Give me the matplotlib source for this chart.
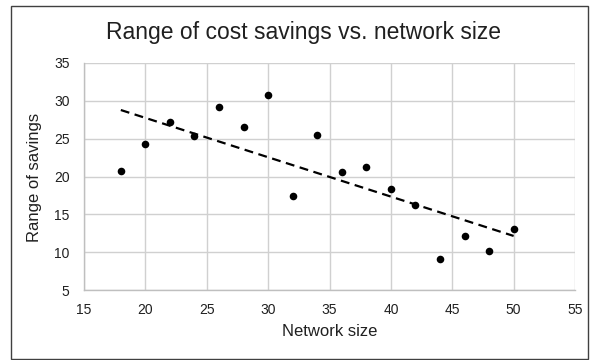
import numpy as np
import matplotlib
matplotlib.use("Agg")
import matplotlib.pyplot as plt
from matplotlib.patches import Rectangle

plt.rcParams['font.family'] = ['Liberation Sans', 'DejaVu Sans']

network_size = [18, 20, 22, 24, 26, 28, 30, 32, 34, 36, 38, 40, 42, 44, 46, 48, 50]
savings_range = [20.7, 24.3, 27.2, 25.4, 29.2, 26.5, 30.8, 17.4, 25.5, 20.6,
                 21.3, 18.4, 16.2, 9.1, 12.1, 10.1, 13.1]
x_ticks = [15, 20, 25, 30, 35, 40, 45, 50, 55]
y_ticks = [5, 10, 15, 20, 25, 30, 35]

W, H = 590, 360
fig = plt.figure(figsize=(W / 100, H / 100), dpi=100)
ax = fig.add_axes([84 / W, 1 - 290 / H, (575 - 84) / W, (290 - 63) / H])

# linear trend line over the data range
x = np.array(network_size, dtype=float)
y = np.array(savings_range, dtype=float)
slope, intercept = np.polyfit(x, y, 1)
xs = np.array([x.min(), x.max()])
ax.plot(xs, slope * xs + intercept, color='black', lw=1.6, ls=(0, (4, 2.5)), zorder=3)

ax.scatter(x, y, s=30, color='black', zorder=4, linewidths=0)

ax.set_xlim(15, 55)
ax.set_ylim(5, 35)
ax.set_xticks(x_ticks)
ax.set_yticks(y_ticks)
ax.grid(True, color='#d0d0d0', lw=1.0)
ax.set_axisbelow(True)
for side in ['top', 'right']:
    ax.spines[side].set_visible(False)
for side in ['left', 'bottom']:
    ax.spines[side].set_color('#bfbfbf')
    ax.spines[side].set_linewidth(1.0)
ax.tick_params(axis='x', length=0, labelsize=10, pad=9)
ax.tick_params(axis='y', length=0, labelsize=10, pad=10.5)
for lbl in ax.get_xticklabels() + ax.get_yticklabels():
    lbl.set_color('#202020')

fig.text(329.5 / W, 1 - 332 / H, 'Network size', ha='center', va='center',
         fontsize=12, color='#202020')
fig.text(35 / W, 1 - 177 / H, 'Range of savings', ha='center', va='center',
         rotation=90, fontsize=12, color='#202020')
fig.text(304 / W, 1 - 33 / H, 'Range of cost savings vs. network size',
         ha='center', va='center', fontsize=16.5, color='#202020')

fig.patches.append(Rectangle((10.5 / W, 1.5 / H), 577.5 / W, 353 / H,
                             transform=fig.transFigure, fill=False,
                             edgecolor='#404040', lw=1.0))

fig.savefig('out.png', dpi=100)
